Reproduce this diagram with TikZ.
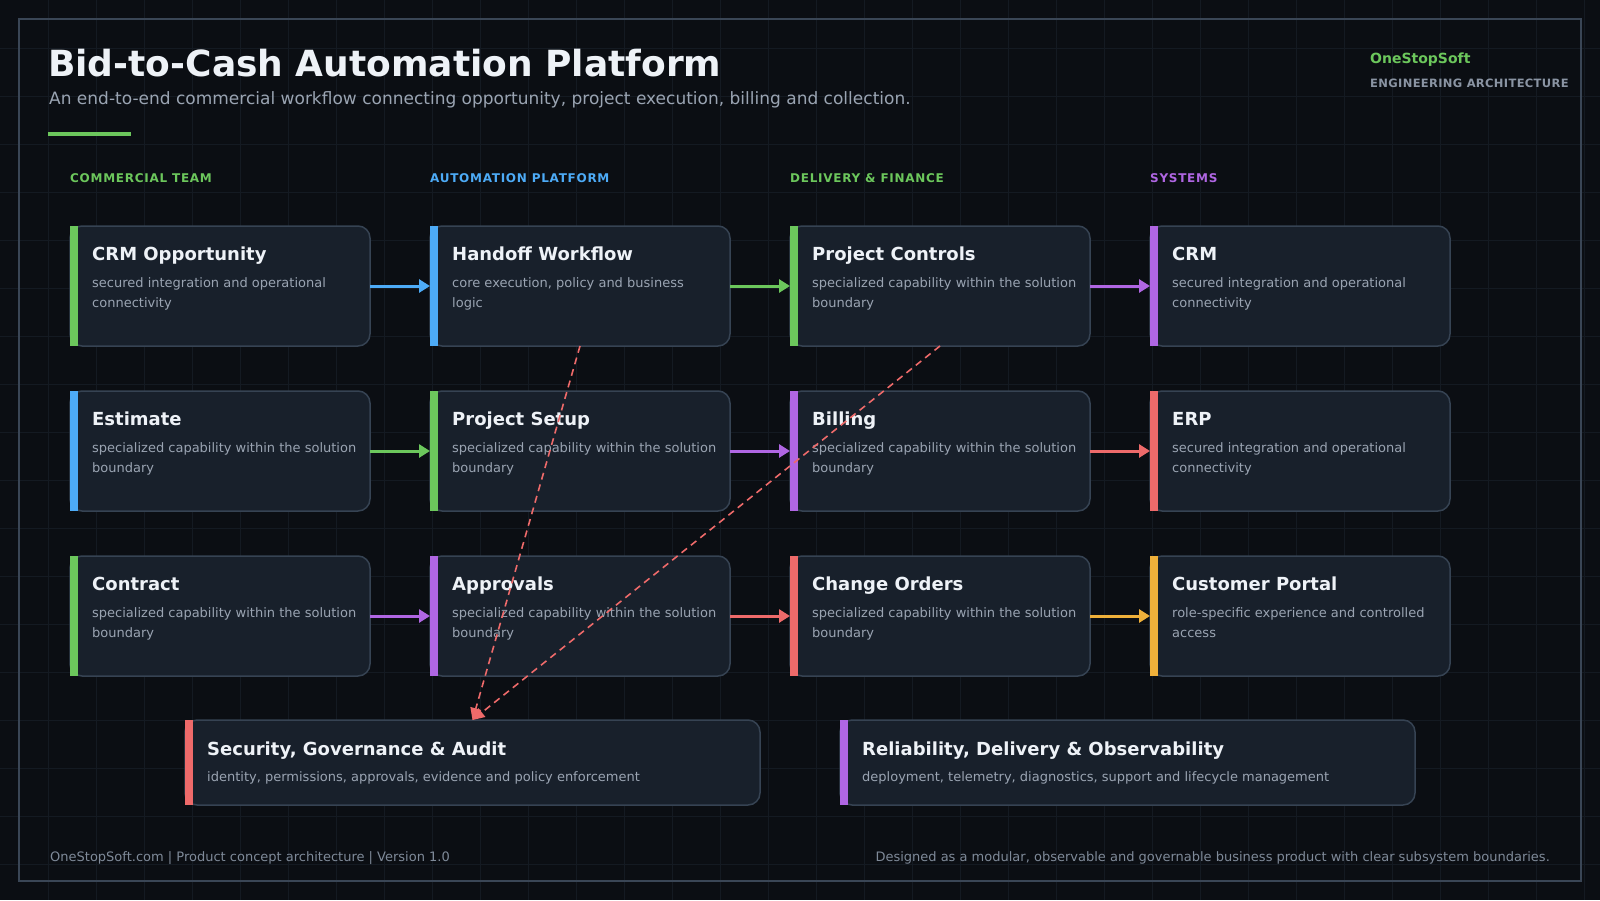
\documentclass[tikz,border=0pt]{standalone}
\usepackage{fontspec}
\setmainfont{DejaVu Sans}
\usetikzlibrary{arrows.meta}
\definecolor{bg}{HTML}{0B0E13}
\definecolor{gridc}{HTML}{141A22}
\definecolor{framec}{HTML}{3A4656}
\definecolor{cardfill}{HTML}{18202B}
\definecolor{cardline}{HTML}{364353}
\definecolor{cgreen}{HTML}{6CC75C}
\definecolor{cblue}{HTML}{4DABF7}
\definecolor{cpurple}{HTML}{B066E3}
\definecolor{cred}{HTML}{EE6A6A}
\definecolor{corange}{HTML}{EFB03A}
\definecolor{ttext}{HTML}{EEF2F7}
\definecolor{dtext}{HTML}{9AA4B2}
\definecolor{ftext}{HTML}{7F8A99}
\definecolor{htext}{HTML}{8A94A3}
\newcommand\mycard[7]{%
  \node[card, anchor=north west] (#1) at (#2,#3) {};
  \fill[#4] (#1.north west) rectangle ++(8,120);
  \node[ttl] (#1-t) at ([shift={(22,34)}]#1.north west) {#5};
  \node[dsc] (#1-d) at ([shift={(22,81)}]#1.north west) {#6\\#7};
}
\newcommand\widecard[6]{%
  \node[wcard, anchor=north west] (#1) at (#2,#3) {};
  \fill[#4] (#1.north west) rectangle ++(8,85);
  \node[ttl] (#1-t) at ([shift={(22,35)}]#1.north west) {#5};
  \node[dsc] (#1-d) at ([shift={(22,61)}]#1.north west) {#6};
}
\begin{document}
\begin{tikzpicture}[x=1pt,y=-1pt,
  card/.style={draw=cardline, fill=cardfill, line width=1.5pt, rounded corners=12pt,
    minimum width=300pt, minimum height=120pt, outer sep=0pt, inner sep=0pt},
  wcard/.style={card, minimum width=575pt, minimum height=85pt},
  ttl/.style={anchor=base west, inner sep=0pt, text=ttext, font=\fontsize{18}{21}\selectfont\bfseries},
  dsc/.style={anchor=base west, inner sep=0pt, text=dtext, align=left, font=\fontsize{13}{20}\selectfont},
  hdr/.style={anchor=base west, inner sep=0pt, font=\fontsize{12}{14}\selectfont\bfseries\addfontfeatures{LetterSpace=6}},
  flow/.style={line width=3pt, -{Triangle[length=11pt,width=13pt]}},
  dep/.style={draw=cred, line width=1.6pt, dash pattern=on 7pt off 5pt, -{Triangle[length=12pt,width=11pt,fill=cred]}}
]
\fill[bg] (0,0) rectangle (1600,900);
\useasboundingbox (0,0) rectangle (1600,900);
\foreach \i in {48,96,...,1584} \draw[gridc, line width=1pt] (\i,0) -- (\i,900);
\foreach \j in {48,96,...,864} \draw[gridc, line width=1pt] (0,\j) -- (1600,\j);
\draw[framec, line width=2pt] (19,19) rectangle (1581,881);

% header
\node[anchor=base west, inner sep=0pt, text=ttext, font=\fontsize{36}{43}\selectfont\bfseries] (title) at (48,76) {Bid-to-Cash Automation Platform};
\node[anchor=base west, inner sep=0pt, text=dtext, font=\fontsize{17}{20}\selectfont] (subtitle) at (49,104) {An end-to-end commercial workflow connecting opportunity, project execution, billing and collection.};
\fill[cgreen] (48,132) rectangle (131,136);
\node[anchor=base west, inner sep=0pt, text=cgreen, font=\fontsize{14}{16}\selectfont\bfseries] (brand) at (1370,63) {OneStopSoft};
\node[anchor=base west, inner sep=0pt, text=htext, font=\fontsize{11.5}{13}\selectfont\bfseries\addfontfeatures{LetterSpace=3}] (brandsub) at (1370,87) {ENGINEERING ARCHITECTURE};

% column headers
\node[hdr, text=cgreen] (h1) at (70,182) {COMMERCIAL TEAM};
\node[hdr, text=cblue] (h2) at (430,182) {AUTOMATION PLATFORM};
\node[hdr, text=cgreen] (h3) at (790,182) {DELIVERY \& FINANCE};
\node[hdr, text=cpurple] (h4) at (1150,182) {SYSTEMS};

% cards
\mycard{crmopp}{70}{226}{cgreen}{CRM Opportunity}{secured integration and operational}{connectivity}
\mycard{handoff}{430}{226}{cblue}{Handoff Workflow}{core execution, policy and business}{logic}
\mycard{projctl}{790}{226}{cgreen}{Project Controls}{specialized capability within the solution}{boundary}
\mycard{crm}{1150}{226}{cpurple}{CRM}{secured integration and operational}{connectivity}

\mycard{estimate}{70}{391}{cblue}{Estimate}{specialized capability within the solution}{boundary}
\mycard{setup}{430}{391}{cgreen}{Project Setup}{specialized capability within the solution}{boundary}
\mycard{billing}{790}{391}{cpurple}{Billing}{specialized capability within the solution}{boundary}
\mycard{erp}{1150}{391}{cred}{ERP}{secured integration and operational}{connectivity}

\mycard{contract}{70}{556}{cgreen}{Contract}{specialized capability within the solution}{boundary}
\mycard{approvals}{430}{556}{cpurple}{Approvals}{specialized capability within the solution}{boundary}
\mycard{change}{790}{556}{cred}{Change Orders}{specialized capability within the solution}{boundary}
\mycard{portal}{1150}{556}{corange}{Customer Portal}{role-specific experience and controlled}{access}

\widecard{security}{185}{720}{cred}{Security, Governance \& Audit}{identity, permissions, approvals, evidence and policy enforcement}
\widecard{reliab}{840}{720}{cpurple}{Reliability, Delivery \& Observability}{deployment, telemetry, diagnostics, support and lifecycle management}

% flows
\draw[flow, cblue] (crmopp.east) -- (handoff.west);
\draw[flow, cgreen] (handoff.east) -- (projctl.west);
\draw[flow, cpurple] (projctl.east) -- (crm.west);
\draw[flow, cgreen] (estimate.east) -- (setup.west);
\draw[flow, cpurple] (setup.east) -- (billing.west);
\draw[flow, cred] (billing.east) -- (erp.west);
\draw[flow, cpurple] (contract.east) -- (approvals.west);
\draw[flow, cred] (approvals.east) -- (change.west);
\draw[flow, corange] (change.east) -- (portal.west);

% dependencies
\draw[dep] (handoff.south) -- (security.north);
\draw[dep] (projctl.south) -- (security.north);

% footer
\node[anchor=base west, inner sep=0pt, text=ftext, font=\fontsize{13}{15}\selectfont] (foot1) at (50,861) {OneStopSoft.com | Product concept architecture | Version 1.0};
\node[anchor=base east, inner sep=0pt, text=ftext, font=\fontsize{13}{15}\selectfont] (foot2) at (1550,861) {Designed as a modular, observable and governable business product with clear subsystem boundaries.};
\end{tikzpicture}
\end{document}
